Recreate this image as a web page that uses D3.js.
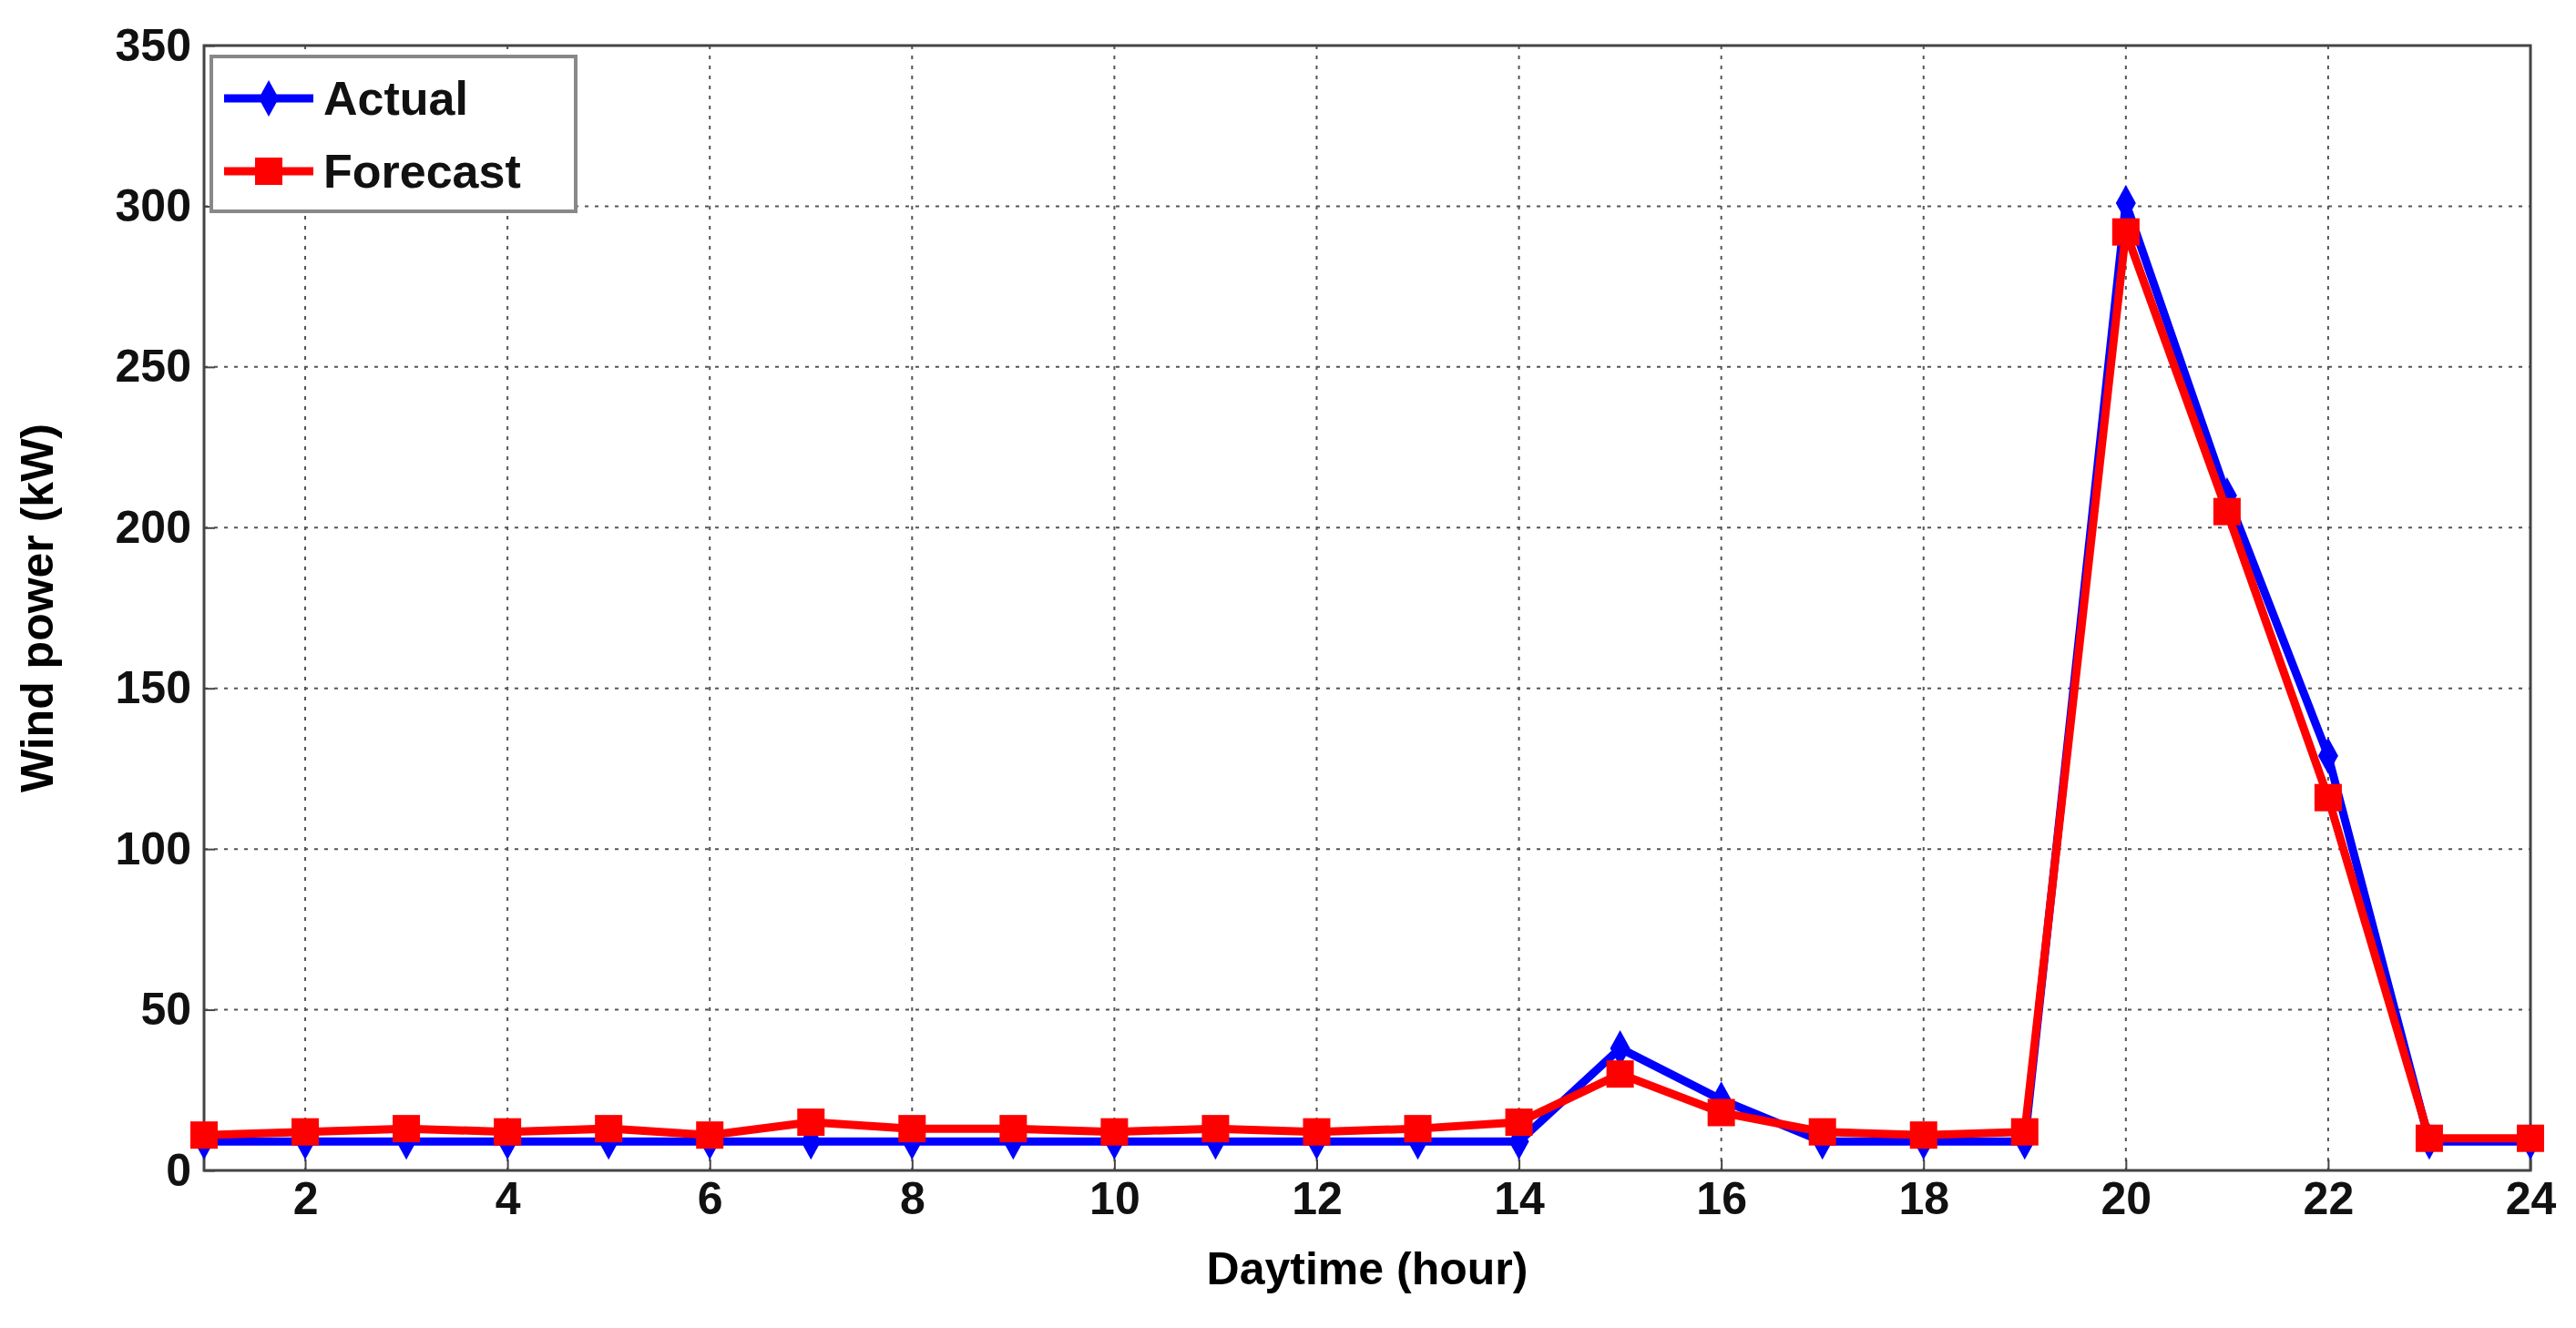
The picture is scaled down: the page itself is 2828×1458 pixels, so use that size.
<!DOCTYPE html>
<html><head><meta charset="utf-8">
<script src="https://d3js.org/d3.v7.min.js"></script>
<style>body{margin:0;background:#fff}svg{display:block}text{font-family:"Liberation Sans",Arial,sans-serif;font-weight:bold}</style>
</head><body><svg id="c" width="2828" height="1458"></svg>
<script>
const hours = d3.range(1,25);
const actual = [9,9,9,9,9,9,9,9,9,9,9,9,9,9,38,22,9,9,9,301,210,129,9,9];
const forecast = [11,12,13,12,13,11,15,13,13,12,13,12,13,15,30,18,12,11,12,292,205,116,10,10];
const xTicks = [2,4,6,8,10,12,14,16,18,20,22,24];
const yTicks = [0,50,100,150,200,250,300,350];

const svg = d3.select("#c");
const m = {l:224,r:2778,t:50,b:1285};
const x = d3.scaleLinear().domain([1,24]).range([m.l,m.r]);
const y = d3.scaleLinear().domain([0,350]).range([m.b,m.t]);
const g = svg.append("g");
g.selectAll(".gx").data(xTicks.slice(0,-1)).join("line").attr("x1",d=>x(d)).attr("x2",d=>x(d)).attr("y1",m.t).attr("y2",m.b)
 .attr("stroke","#555").attr("stroke-width",2).attr("stroke-dasharray","4,7");
g.selectAll(".gy").data(yTicks.slice(1,-1)).join("line").attr("y1",d=>y(d)).attr("y2",d=>y(d)).attr("x1",m.l).attr("x2",m.r)
 .attr("stroke","#555").attr("stroke-width",2).attr("stroke-dasharray","4,7");
g.append("rect").attr("x",m.l).attr("y",m.t).attr("width",m.r-m.l).attr("height",m.b-m.t).attr("fill","none").attr("stroke","#444").attr("stroke-width",3);
const ax = svg.append("g").attr("transform",`translate(0,${m.b})`).call(d3.axisBottom(x).tickValues(xTicks).tickSize(-12).tickPadding(12));
const ay = svg.append("g").attr("transform",`translate(${m.l},0)`).call(d3.axisLeft(y).tickValues(yTicks).tickSize(-12).tickPadding(14));
[ax,ay].forEach(a=>{a.select(".domain").remove();a.selectAll("line").attr("stroke","#444").attr("stroke-width",2);a.selectAll("text").attr("font-size",50).attr("fill","#111");});
svg.append("text").attr("x",(m.l+m.r)/2).attr("y",1410).attr("text-anchor","middle").attr("font-size",50).text("Daytime (hour)");
svg.append("text").attr("transform",`translate(58,${(m.t+m.b)/2}) rotate(-90)`).attr("text-anchor","middle").attr("font-size",50).text("Wind power (kW)");
const line = d3.line().x((d,i)=>x(hours[i])).y(d=>y(d));
svg.append("path").datum(actual).attr("d",line).attr("fill","none").attr("stroke","#0000ff").attr("stroke-width",9);
svg.selectAll(".ma").data(actual).join("path").attr("transform",(d,i)=>`translate(${x(hours[i])},${y(d)})`)
 .attr("d","M0,-20L11,0L0,20L-11,0Z").attr("fill","#0000ff");
svg.append("path").datum(forecast).attr("d",line).attr("fill","none").attr("stroke","#ff0000").attr("stroke-width",9);
svg.selectAll(".mf").data(forecast).join("rect").attr("x",(d,i)=>x(hours[i])-15).attr("y",d=>y(d)-15).attr("width",30).attr("height",30).attr("fill","#ff0000");
const lg = svg.append("g");
lg.append("rect").attr("x",232).attr("y",62).attr("width",400).attr("height",170).attr("fill","#fff").attr("stroke","#888").attr("stroke-width",4);
const items=[["Actual","#0000ff",0],["Forecast","#ff0000",1]];
items.forEach(([t,c,i])=>{
 const yy=108+i*80;
 lg.append("line").attr("x1",246).attr("x2",344).attr("y1",yy).attr("y2",yy).attr("stroke",c).attr("stroke-width",9);
 if(i==0) lg.append("path").attr("transform",`translate(295,${yy})`).attr("d","M0,-20L11,0L0,20L-11,0Z").attr("fill",c);
 else lg.append("rect").attr("x",280).attr("y",yy-15).attr("width",30).attr("height",30).attr("fill",c);
 lg.append("text").attr("x",355).attr("y",yy+18).attr("font-size",52).attr("fill","#111").text(t);
});
</script></body></html>
